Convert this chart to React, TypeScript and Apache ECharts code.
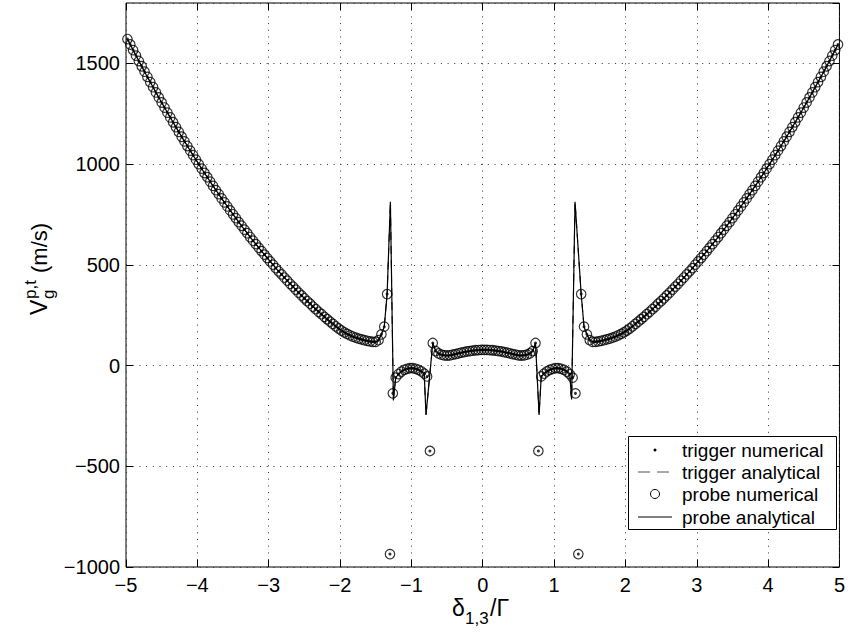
import React, { useEffect, useRef } from "react";
import * as echarts from "echarts";

// Numerical samples: x = X_START + X_STEP * i
const X_START = -4.98;
const X_STEP = 0.04;

const probeNumericalY = [
  1621, 1594, 1566, 1539, 1512, 1486, 1459, 1433, 1407, 1382,
  1356, 1331, 1306, 1281, 1256, 1232, 1208, 1184, 1160, 1136,
  1113, 1090, 1067, 1045, 1022, 1000, 978, 956, 935, 913,
  892, 871, 851, 830, 810, 790, 770, 751, 732, 712,
  694, 675, 657, 638, 620, 603, 585, 568, 551, 534,
  517, 501, 484, 468, 453, 437, 422, 406, 392, 377,
  362, 348, 334, 320, 307, 293, 280, 267, 255, 242,
  230, 218, 207, 195, 184, 174, 165, 157, 150, 144,
  139, 134, 130, 126, 123, 120, 118, 118, 126, 155,
  193, 355, -936, -138, -60, -42, -30, -21, -16, -13,
  -13, -16, -21, -29, -40, -54, -424, 112, 72, 60,
  54, 51, 50, 51, 54, 57, 61, 64, 67, 70,
  72, 74, 76, 77, 78, 78,
  78, 77, 76, 74, 72, 70, 67, 64, 61, 57,
  54, 51, 50, 51, 54, 60, 72, 112, -424, -54,
  -40, -29, -21, -16, -13, -13, -16, -21, -30, -42,
  -60, -138, -936, 355, 193, 155, 126, 118, 118, 120,
  123, 126, 130, 134, 139, 144, 150, 157, 165, 174,
  184, 195, 207, 218, 230, 242, 255, 267, 280, 293,
  307, 320, 334, 348, 362, 377, 392, 406, 422, 437,
  453, 468, 484, 501, 517, 534, 551, 568, 585, 603,
  620, 638, 657, 675, 694, 712, 732, 751, 770, 790,
  810, 830, 851, 871, 892, 913, 935, 956, 978, 1000,
  1022, 1045, 1067, 1090, 1113, 1136, 1160, 1184, 1208, 1232,
  1256, 1281, 1306, 1331, 1356, 1382, 1407, 1433, 1459, 1486,
  1512, 1539, 1566, 1594,
];
const triggerNumericalY = probeNumericalY.slice();

// Numerical points the analytical curve does not pass through (near the poles)
const analyticSkipX = [-1.3, -1.26, -0.78, -0.74, 0.78, 1.26, 1.3, 1.34];
// Extra analytical points at the resonances
const analyticSpikeX = [-1.294, -1.252, -0.795, 0.79, 1.246, 1.294];
const analyticSpikeY = [813, -172, -245, -245, -168, 813];

const xTicks = [-5, -4, -3, -2, -1, 0, 1, 2, 3, 4, 5];
const yTicks = [-1000, -500, 0, 500, 1000, 1500];

const FONT = "'Liberation Sans', Arial, Helvetica, sans-serif";

function numericalX(i: number) {
  return Math.round((X_START + X_STEP * i) * 100) / 100;
}

export default function App() {
  const ref = useRef<HTMLDivElement>(null);

  useEffect(() => {
    if (!ref.current) return;
    const chart = echarts.init(ref.current, undefined, { renderer: "svg" });

    const probeNum = probeNumericalY.map((y, i) => [numericalX(i), y]);
    const trigNum = triggerNumericalY.map((y, i) => [numericalX(i), y]);
    const analytic: number[][] = probeNum
      .filter((p) => !analyticSkipX.some((s) => Math.abs(s - p[0]) < 1e-6))
      .concat(analyticSpikeX.map((x, i) => [x, analyticSpikeY[i]]))
      .sort((a, b) => a[0] - b[0]);

    const minus = (v: number) => String(v).replace("-", "\u2212");
    const dotted = { color: "#333", width: 1, type: [1, 5.7] as any };
    const tick = { inside: true, length: 7, lineStyle: { color: "#000" } };
    const noLine = { show: false, onZero: false };

    const legendRows = [
      { label: "trigger numerical", y: 450 },
      { label: "trigger analytical", y: 472 },
      { label: "probe numerical", y: 494 },
      { label: "probe analytical", y: 517 },
    ];

    const txt = (text: string, x: number, y: number, size: number) => ({
      type: "text",
      x,
      y,
      style: {
        text,
        fill: "#000",
        font: `${size}px ${FONT}`,
        align: "left",
        verticalAlign: "middle",
        textAlign: "left",
        textVerticalAlign: "middle",
      },
    });

    const option: any = {
      animation: false,
      backgroundColor: "#fff",
      grid: {
        left: 126,
        right: 7,
        top: 3,
        bottom: 68,
        show: true,
        borderColor: "#000",
        borderWidth: 1,
        backgroundColor: "#fff",
      },
      xAxis: [
        {
          type: "value",
          min: -5,
          max: 5,
          interval: 1,
          axisLine: noLine,
          axisTick: tick,
          axisLabel: {
            margin: 8,
            color: "#000",
            fontSize: 20,
            fontFamily: FONT,
            formatter: (v: number) => (xTicks.includes(v) ? minus(v) : ""),
          },
          splitLine: { show: true, lineStyle: dotted },
        },
        {
          type: "value",
          position: "top",
          min: -5,
          max: 5,
          interval: 1,
          axisLine: noLine,
          axisTick: tick,
          axisLabel: { show: false },
          splitLine: { show: false },
        },
      ],
      yAxis: [
        {
          type: "value",
          min: -1000,
          max: 1800,
          interval: 500,
          axisLine: noLine,
          axisTick: tick,
          axisLabel: {
            margin: 6,
            color: "#000",
            fontSize: 20,
            fontFamily: FONT,
            showMaxLabel: false,
            formatter: (v: number) => (yTicks.includes(v) ? minus(v) : ""),
          },
          splitLine: { show: true, lineStyle: dotted },
        },
        {
          type: "value",
          position: "right",
          min: -1000,
          max: 1800,
          interval: 500,
          axisLine: noLine,
          axisTick: tick,
          axisLabel: { show: false },
          splitLine: { show: false },
        },
      ],
      series: [
        {
          name: "trigger numerical",
          type: "scatter",
          data: trigNum,
          symbol: "circle",
          symbolSize: 3,
          itemStyle: { color: "#000" },
          z: 3,
        },
        {
          name: "trigger analytical",
          type: "line",
          data: analytic,
          showSymbol: false,
          symbol: "none",
          lineStyle: { color: "#000", width: 1, type: [8, 6] },
          z: 3,
        },
        {
          name: "probe numerical",
          type: "scatter",
          data: probeNum,
          symbol: "circle",
          symbolSize: 9.5,
          itemStyle: { color: "none", borderColor: "#000", borderWidth: 1.2 },
          z: 4,
        },
        {
          name: "probe analytical",
          type: "line",
          data: analytic,
          showSymbol: false,
          symbol: "none",
          lineStyle: { color: "#000", width: 1.2 },
          z: 5,
        },
      ],
      graphic: [
        // y-axis title
        {
          type: "group",
          x: 39,
          y: 315,
          rotation: Math.PI / 2,
          children: [
            txt("V", 0, 0, 23),
            txt("p,t", 16, -9, 17),
            txt("g", 16, 9, 17),
            txt("(m/s)", 42, 0, 22),
          ],
        },
        // x-axis title
        {
          type: "group",
          x: 452,
          y: 608,
          children: [txt("δ", 0, 0, 23), txt("1,3", 13, 10, 17), txt("/Γ", 38, 0, 23)],
        },
        // legend box
        {
          type: "rect",
          shape: { x: 628.5, y: 436.5, width: 208, height: 93 },
          style: { fill: "#fff", stroke: "#000", lineWidth: 1 },
          z: 100,
        },
        { type: "circle", shape: { cx: 655, cy: legendRows[0].y, r: 1.5 }, style: { fill: "#000" }, z: 101 },
        {
          type: "line",
          shape: { x1: 638, y1: legendRows[1].y, x2: 672, y2: legendRows[1].y },
          style: { stroke: "#555", lineWidth: 1, lineDash: [12, 7] },
          z: 101,
        },
        {
          type: "circle",
          shape: { cx: 655, cy: legendRows[2].y, r: 4.5 },
          style: { fill: "none", stroke: "#000", lineWidth: 1 },
          z: 101,
        },
        {
          type: "line",
          shape: { x1: 638, y1: legendRows[3].y, x2: 672, y2: legendRows[3].y },
          style: { stroke: "#000", lineWidth: 1 },
          z: 101,
        },
        ...legendRows.map((r) => ({ ...txt(r.label, 682, r.y, 19), z: 101 })),
      ],
    };

    chart.setOption(option);
    return () => chart.dispose();
  }, []);

  return (
    <div
      ref={ref}
      style={{ position: "fixed", left: 0, top: 0, width: 848, height: 635, background: "#fff" }}
    />
  );
}
